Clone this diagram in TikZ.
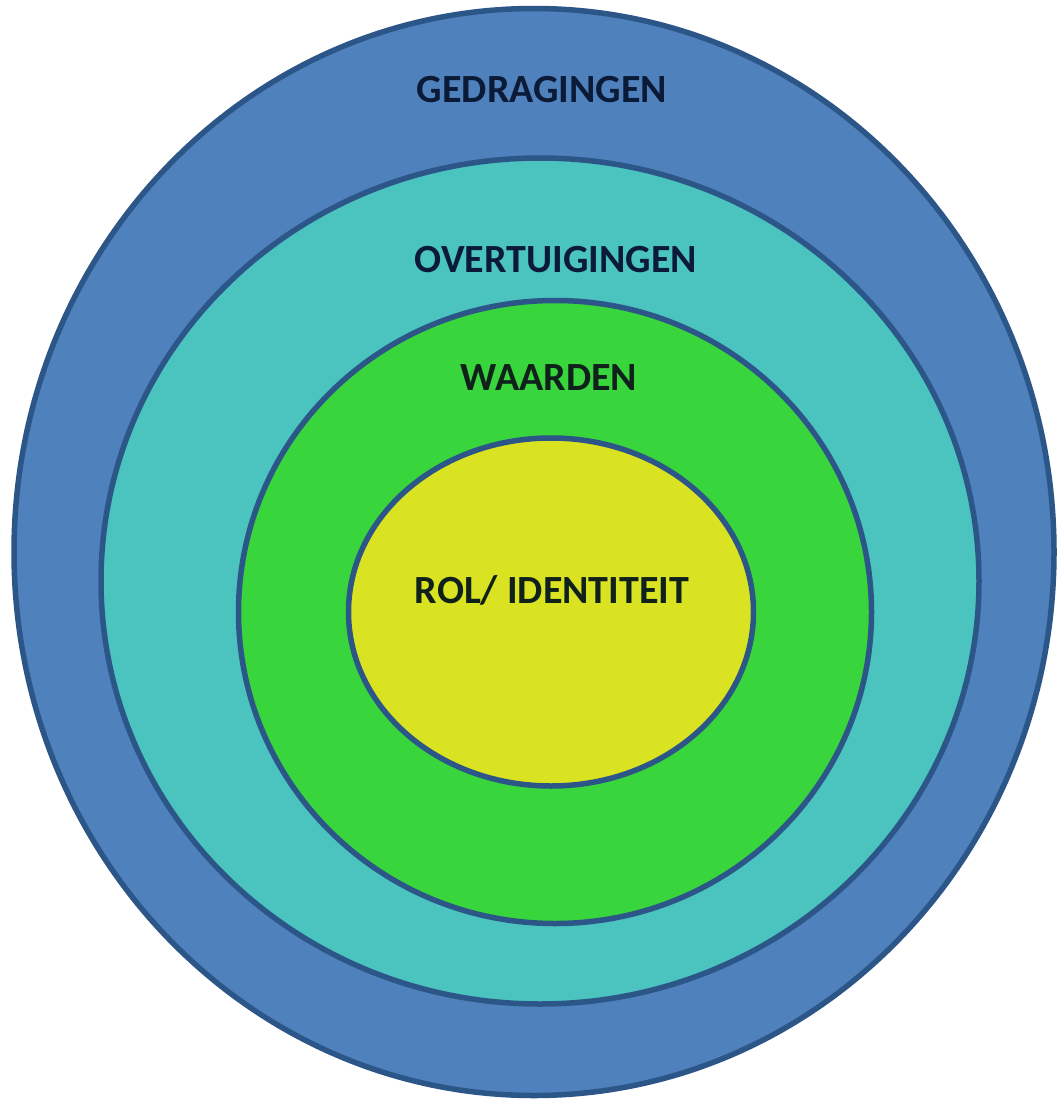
\documentclass[tikz,border=0pt]{standalone}
\usepackage{fontspec}
\setmainfont{Carlito}
\usetikzlibrary{shapes.geometric}
\definecolor{ringblue}{HTML}{4F81BD}
\definecolor{ringturq}{HTML}{4BC3BF}
\definecolor{ringgreen}{HTML}{39D53C}
\definecolor{ringyellow}{HTML}{DAE321}
\definecolor{ringline}{HTML}{2C5688}
\definecolor{textnavy}{HTML}{0B1A36}
\definecolor{textdark}{HTML}{10201A}
\tikzset{
  ring/.style={ellipse, draw=ringline, line width=5.5pt, inner sep=0pt, outer sep=0pt},
  lbl/.style={font=\fontsize{40}{46}\selectfont\bfseries, inner sep=0pt, anchor=center}
}
\begin{document}
\begin{tikzpicture}[x=1pt,y=-1pt]
\useasboundingbox (0,0) rectangle (1057,1100);
\node[ring, fill=ringblue, minimum width=1040pt, minimum height=1087pt] (outer) at (534,552) {};
\node[ring, fill=ringturq, minimum width=878pt, minimum height=846pt] (turq) at (540,581) {};
\node[ring, fill=ringgreen, minimum width=633pt, minimum height=623pt] (green) at (555,612) {};
\node[ring, fill=ringyellow, minimum width=405pt, minimum height=348pt] (yellow) at (551,612) {};
\node[lbl, text=textnavy] (t1) at (542,90) {GEDRAGINGEN};
\node[lbl, text=textnavy] (t2) at (556,260) {OVERTUIGINGEN};
\node[lbl, text=textdark] (t3) at (549,378) {WAARDEN};
\node[lbl, text=textdark] (t4) at (552,590) {ROL/ IDENTITEIT};
\end{tikzpicture}
\end{document}
